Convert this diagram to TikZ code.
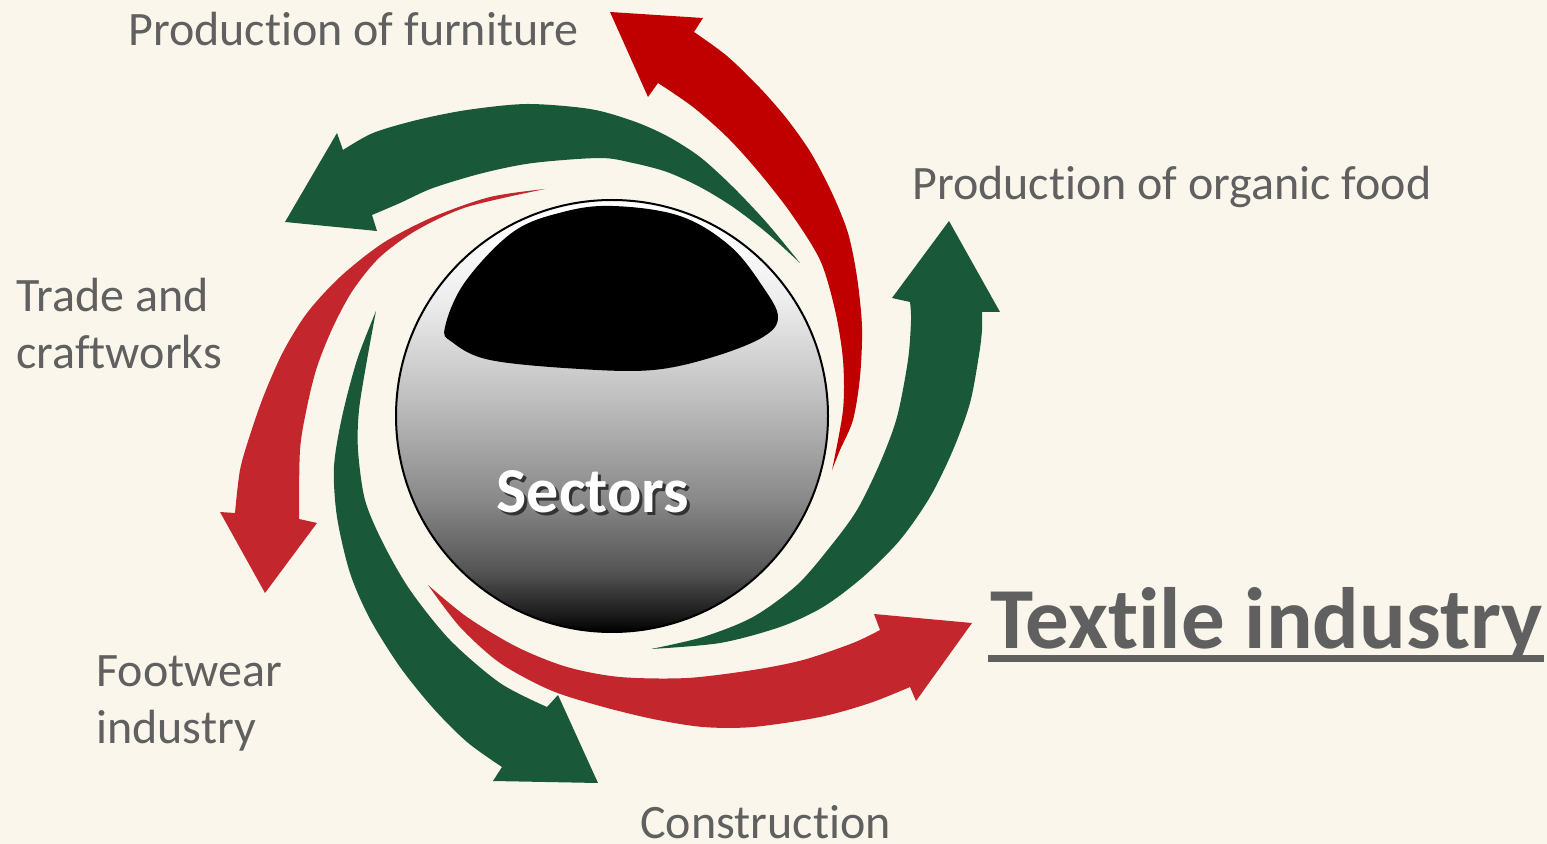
\documentclass[tikz,border=0pt]{standalone}
\usepackage{fontspec}
\setmainfont{Carlito}[Ligatures={NoCommon,NoContextual}]
\definecolor{bg}{HTML}{FAF6EB}
\definecolor{redA}{HTML}{C00000}
\definecolor{redB}{HTML}{C3272D}
\definecolor{grn}{HTML}{1A583A}
\definecolor{txt}{HTML}{606060}
\pgfdeclareverticalshading{spherebw}{100bp}{color(0bp)=(black); color(25bp)=(black); color(26.5bp)=(black!92); color(32bp)=(black!67); color(40.5bp)=(black!46); color(52bp)=(black!25); color(63.5bp)=(black!7); color(72bp)=(white); color(100bp)=(white)}
\tikzset{
  lbl/.style={anchor=base west, inner sep=0pt, text=txt, font=\fontsize{24}{29}\selectfont},
}
\begin{document}
\begin{tikzpicture}[x=0.5pt,y=-0.5pt]
\useasboundingbox (0,0) rectangle (1547,844);
\fill[bg] (0,0) rectangle (1547,844);

% sphere
\shade[shading=spherebw, draw=black, line width=1pt] (612,416) circle[radius=216];
\fill[black] plot[smooth cycle, tension=0.6] coordinates {(445,327) (465,282) (513,232) (563,212) (613,206) (680,216) (730,246) (763,287) (778,317) (763,337) (713,357) (653,370) (580,369) (490,360) (452,342)};

% arrow A (dark red, top right)
\fill[redA] (694,32) -- (703,18) -- (610,12) -- (648,97) -- (658,83)
  -- plot[smooth] coordinates {(658,83) (693,107) (727,137) (757,170) (790,212) (820,260) (835,310) (843,360) (843,410) (832,470)}
  -- plot[smooth] coordinates {(832,470) (840,450) (853,420) (860,377) (862,327) (857,277) (848,233) (832,193) (811,153) (787,119) (760,88) (727,56) (694,32)} -- cycle;

% arrow B (green, top)
\fill[grn] (343,150) -- (337,133) -- (285,222) -- (377,231) -- (372,215)
  -- plot[smooth] coordinates {(372,215) (400,203) (433,188) (483,173) (533,163) (600,158) (633,163) (667,172) (700,187) (733,207) (767,233) (800,263)}
  -- plot[smooth] coordinates {(800,263) (767,223) (733,187) (700,157) (667,136) (633,121) (590,109) (527,104) (467,110) (417,120) (373,133) (343,150)} -- cycle;

% arrow C (red, left)
\fill[redB] (235,513) -- (220,512) -- (265,593) -- (317,523) -- (299,519)
  -- plot[smooth] coordinates {(299,519) (300,450) (307,407) (317,367) (333,327) (353,290) (380,257) (417,230) (467,207) (545,189)}
  -- plot[smooth] coordinates {(545,189) (490,197) (433,217) (383,243) (340,277) (307,313) (283,352) (264,395) (250,435) (240,470) (235,513)} -- cycle;

% arrow D (green, bottom left)
\fill[grn] (502,767) -- (493,781) -- (598,783) -- (558,695) -- (547,707)
  -- plot[smooth] coordinates {(547,707) (500,683) (450,640) (410,590) (383,543) (365,500) (358,450) (359,410) (367,360) (376,311)}
  -- plot[smooth] coordinates {(376,311) (357,360) (342,417) (334,467) (337,517) (350,573) (370,619) (400,667) (433,708) (467,742) (502,767)} -- cycle;

% arrow E (red, bottom)
\fill[redB] (880,630) -- (874,614) -- (972,623) -- (916,701) -- (910,687)
  -- plot[smooth] coordinates {(910,687) (870,703) (820,717) (753,727) (703,727) (653,719) (600,706) (550,690) (500,663) (460,627) (428,585)}
  -- plot[smooth] coordinates {(428,585) (467,617) (517,647) (567,667) (620,677) (687,678) (753,670) (803,660) (853,643) (880,630)} -- cycle;

% arrow F (green, right)
\fill[grn] (910,302) -- (892,298) -- (949,221) -- (1000,312) -- (982,312)
  -- plot[smooth] coordinates {(982,312) (982,330) (979,355) (970,403) (953,450) (930,497) (900,540) (863,577) (823,607) (780,627) (720,643) (651,649)}
  -- plot[smooth] coordinates {(651,649) (703,637) (753,617) (797,585) (830,547) (857,510) (880,463) (897,417) (908,360) (911,320) (910,302)} -- cycle;

% centre text
\node[anchor=base, inner sep=0pt, text=black!80, font=\bfseries\fontsize{32}{38}\selectfont] (sectorsshadow) at (596,515) {Sectors};
\node[anchor=base, inner sep=0pt, text=white, font=\bfseries\fontsize{32}{38}\selectfont] (sectors) at (593,512) {Sectors};

% labels
\node[lbl] (furniture) at (128,46) {Production of furniture};
\node[lbl] (organic) at (912,200) {Production of organic food};
\node[lbl] (trade1) at (16,312) {Trade and};
\node[lbl] (trade2) at (16,369) {craftworks};
\node[lbl] (foot1) at (96,686) {Footwear};
\node[lbl] (foot2) at (96,743) {industry};
\node[lbl] (constr) at (640,838) {Construction};
\node[lbl, font=\bfseries\fontsize{43.5}{52}\selectfont] (textile) at (990,648) {Textile industry};
\draw[txt, line width=3.5pt] (textile.base west) ++(-2,10) coordinate (ulA) -- ++(556,0) coordinate (ulB);
\end{tikzpicture}
\end{document}
